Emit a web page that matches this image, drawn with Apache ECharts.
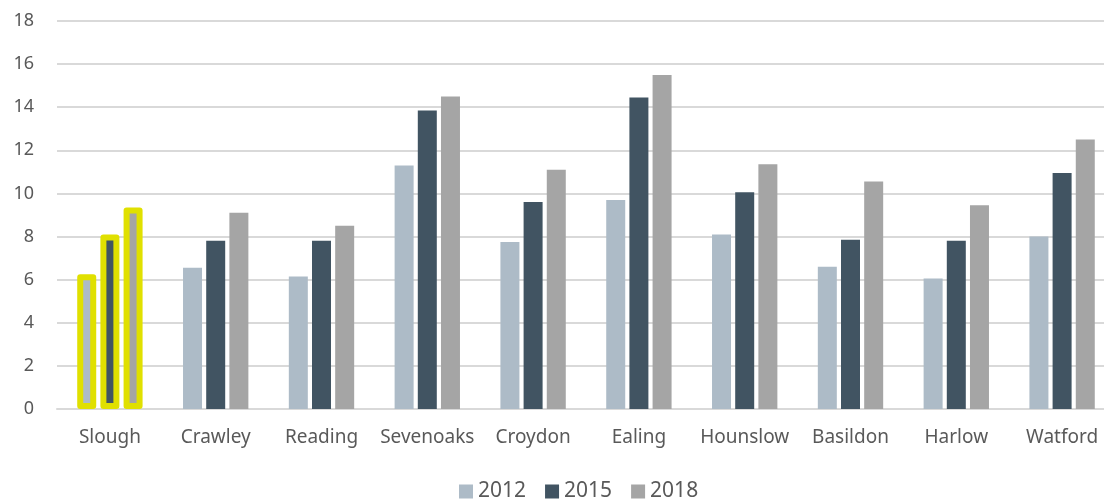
<!DOCTYPE html>
<html>
<head>
<meta charset="utf-8">
<script src="https://cdn.jsdelivr.net/npm/echarts@6/dist/echarts.min.js"></script>
<style>
  html, body { margin: 0; padding: 0; background: #ffffff; overflow: hidden; }
  /* the drawing surface is a little wider than the window so the last group sits near the edge */
  #chart { width: 1120px; height: 500px; }
</style>
</head>
<body>
<div id="chart"></div>
<script>
// Towns and yearly values
const towns = ['Slough', 'Crawley', 'Reading', 'Sevenoaks', 'Croydon', 'Ealing', 'Hounslow', 'Basildon', 'Harlow', 'Watford'];
const years = ['2012', '2015', '2018'];
const values2012 = [6.25, 6.55, 6.15, 11.3, 7.75, 9.7, 8.1, 6.6, 6.05, 8.0];
const values2015 = [8.1, 7.8, 7.8, 13.85, 9.6, 14.45, 10.05, 7.85, 7.8, 10.95];
const values2018 = [9.35, 9.1, 8.5, 14.5, 11.1, 15.5, 11.35, 10.55, 9.45, 12.5];
const yTicks = [0, 2, 4, 6, 8, 10, 12, 14, 16, 18];

const colors = ['#adbbc7', '#415462', '#a5a5a5'];
const highlightTown = 'Slough';
const textColor = '#595959';
const fontFamily = '"Noto Sans", sans-serif';

// Outline the highlighted town's bars in yellow
function seriesData(vals) {
  return vals.map((v, i) => towns[i] === highlightTown
    ? { value: v, itemStyle: { borderColor: '#e0e000', borderWidth: 6, borderJoin: 'round' } }
    : v);
}

const chart = echarts.init(document.getElementById('chart'), null, { renderer: 'canvas' });
chart.setOption({
  animation: false,
  color: colors,
  grid: { left: 57, right: 5, top: 21, bottom: 91, containLabel: false },
  legend: {
    bottom: -7,
    left: 454,
    itemWidth: 14,
    itemHeight: 14,
    itemGap: 19,
    icon: 'rect',
    textStyle: { color: textColor, fontSize: 21, fontFamily: fontFamily },
    data: years
  },
  xAxis: {
    type: 'category',
    data: towns,
    axisLine: { lineStyle: { color: '#d9d9d9', width: 2 } },
    axisTick: { show: false },
    axisLabel: { color: textColor, fontSize: 19, fontFamily: fontFamily, margin: 19, interval: 0 }
  },
  yAxis: {
    type: 'value',
    min: yTicks[0],
    max: yTicks[yTicks.length - 1],
    interval: 2,
    axisLine: { show: false },
    axisTick: { show: false },
    axisLabel: { color: textColor, fontSize: 18, fontFamily: fontFamily, margin: 23 },
    splitLine: { lineStyle: { color: '#d9d9d9', width: 2 } }
  },
  series: [
    { name: years[0], type: 'bar', barWidth: 19, barGap: '22%', data: seriesData(values2012) },
    { name: years[1], type: 'bar', barWidth: 19, barGap: '22%', data: seriesData(values2015) },
    { name: years[2], type: 'bar', barWidth: 19, barGap: '22%', data: seriesData(values2018) }
  ]
});
</script>
</body>
</html>
